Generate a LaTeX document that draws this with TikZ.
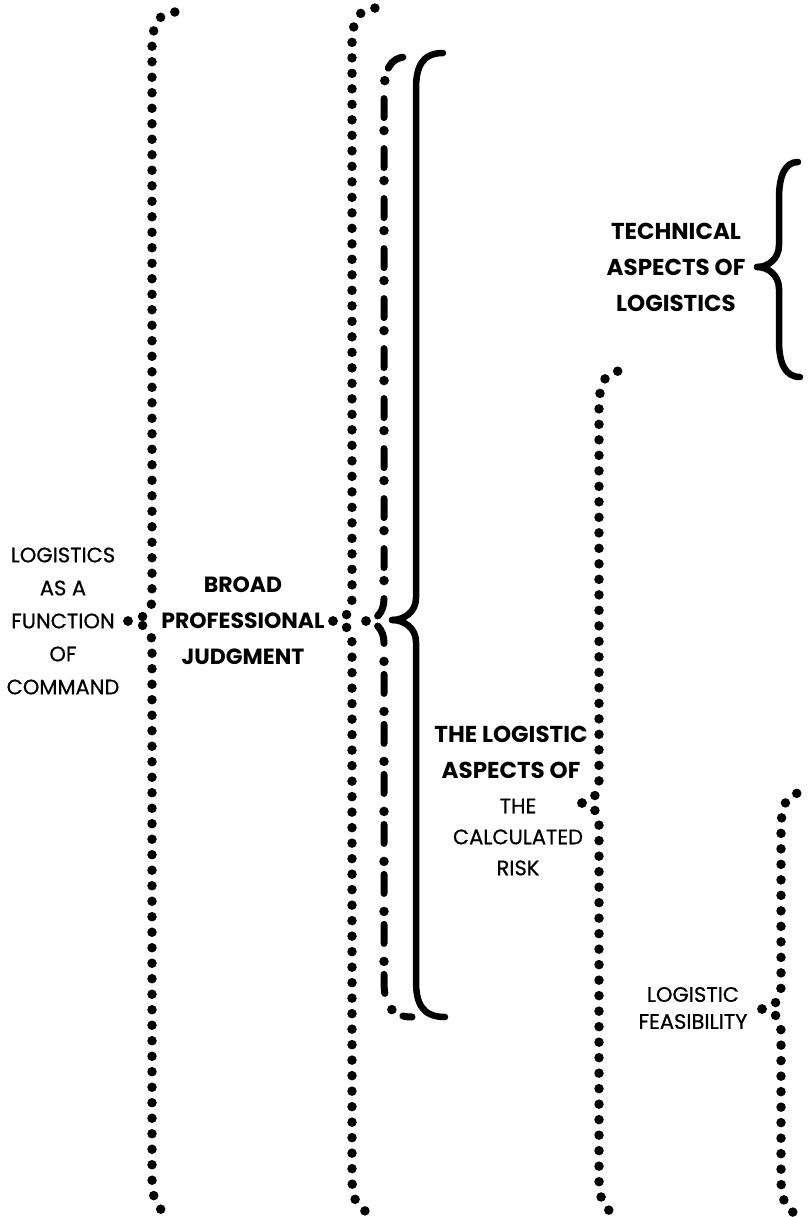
\documentclass[tikz,border=0pt]{standalone}
\usepackage{fontspec}
\setmainfont{Poppins}
\newcommand\mybrace[8]{%
  \draw[#1] (#3,#4) .. controls ({(#2+#3)/2},#4) and (#2,{#4-8}) .. (#2,{#4-22})
    -- (#2,{#6+36}) .. controls (#2,{#6+14}) and ({#2+6},#6) .. (#5,#6);
  \draw[#1] (#3,#4) .. controls ({(#2+#3)/2},#4) and (#2,{#4+8}) .. (#2,{#4+22})
    -- (#2,{#8-36}) .. controls (#2,{#8-14}) and ({#2+6},#8) .. (#7,#8);
}
\tikzset{
  dotbrace/.style={line width=9.5pt, line cap=round, dash pattern=on 0pt off 15.5pt},
  dashdots/.style={line width=9.5pt, line cap=round, dash pattern=on 0pt off 50pt},
  dashlong/.style={line width=7pt, line cap=round, dash pattern=on 0pt off 13pt on 19pt off 18pt},
  solidbrace/.style={line width=6.5pt, line cap=round},
  lbl/.style={align=center, inner sep=0pt, font=\fontsize{21}{33}\selectfont\addfontfeature{FakeBold=0.6}},
  blbl/.style={align=center, inner sep=0pt, font=\fontsize{23}{36}\selectfont\bfseries}
}
\begin{document}
\begin{tikzpicture}[x=1pt,y=-1pt]
\useasboundingbox (0,0) rectangle (807,1217);
% braces
\mybrace{dotbrace}{152}{128}{621}{175}{12}{173}{1214}
\mybrace{dotbrace}{352}{333}{621}{376}{8}{379}{1214}
\mybrace{dashdots}{384}{366}{621}{406}{57}{412}{1017}
\mybrace{dashlong}{384}{366}{621}{406}{57}{412}{1017}
\mybrace{solidbrace}{416}{392}{620}{443}{53}{445}{1017}
\mybrace{solidbrace}{779}{757}{267}{798}{162}{800}{377}
\mybrace{dotbrace}{599}{582}{803}{619}{371}{620}{1214}
\mybrace{dotbrace}{781}{762}{1009}{799}{793}{800}{1214}
% labels
\node[lbl] (cmd) at (63,621) {LOGISTICS\\AS A\\FUNCTION\\OF\\COMMAND};
\node[blbl, font=\fontsize{22}{36}\selectfont\bfseries] (bpj) at (243,621) {BROAD\\PROFESSIONAL\\JUDGMENT};
\node[blbl] (tech) at (676,267) {TECHNICAL\\ASPECTS OF\\LOGISTICS};
\node[blbl] (tla) at (511,752) {THE LOGISTIC\\ASPECTS OF};
\node[lbl, font=\fontsize{21}{31}\selectfont\addfontfeature{FakeBold=0.6}] (risk) at (518,837) {THE\\CALCULATED\\RISK};
\node[lbl, font=\fontsize{21}{27}\selectfont\addfontfeature{FakeBold=0.6}] (feas) at (693,1008) {LOGISTIC\\FEASIBILITY};
\end{tikzpicture}
\end{document}
